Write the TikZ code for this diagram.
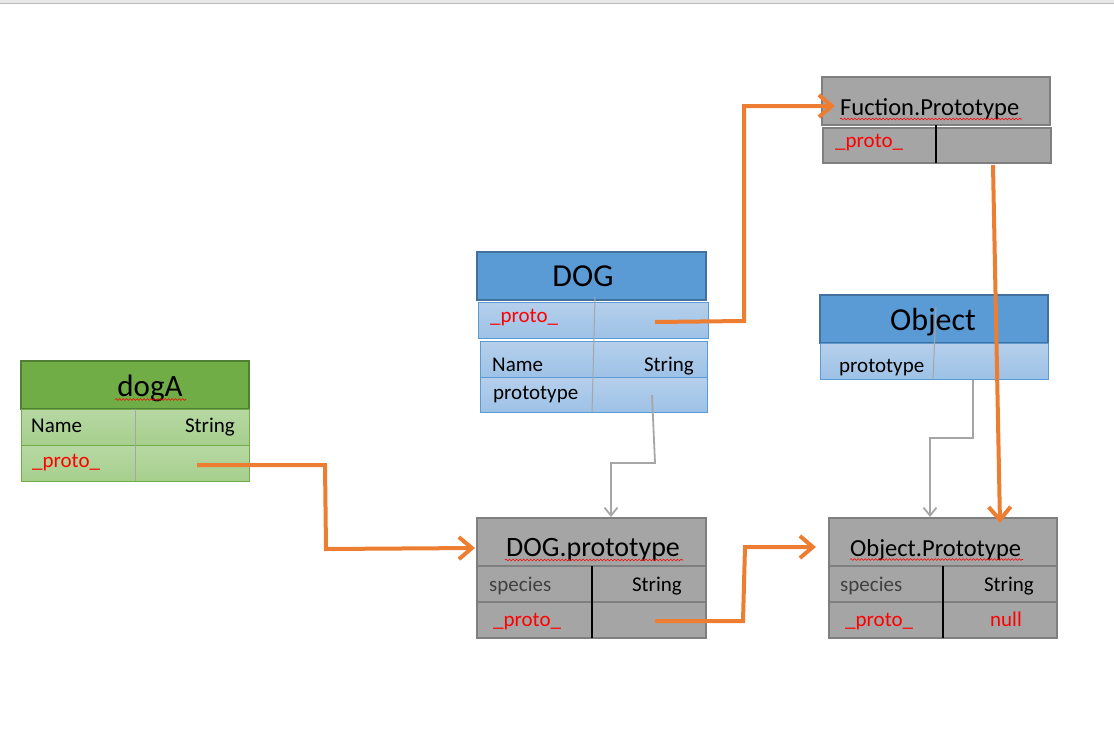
\documentclass[tikz,border=0pt]{standalone}
\usepackage{fontspec}
\setmainfont{Carlito}
\usetikzlibrary{arrows.meta,decorations.pathmorphing}
\definecolor{grnhead}{HTML}{70AD47}
\definecolor{grnedge}{HTML}{507E32}
\definecolor{grntop}{HTML}{B7D8A3}
\definecolor{grnbot}{HTML}{A6CF8D}
\definecolor{bluhead}{HTML}{5B9BD5}
\definecolor{bluedge}{HTML}{41719C}
\definecolor{blutop}{HTML}{B6CFEC}
\definecolor{blubot}{HTML}{9DC2E6}
\definecolor{gryfill}{HTML}{A5A5A5}
\definecolor{gryedge}{HTML}{7F7F7F}
\definecolor{conngray}{HTML}{A6A6A6}
\definecolor{orng}{HTML}{ED7D31}
\definecolor{txtred}{HTML}{FF0000}
\definecolor{txtdark}{HTML}{404040}
\newcommand\setfs[1]{\fontsize{#1}{#1}\selectfont}
\begin{document}
\begin{tikzpicture}[x=1pt,y=-1pt,
  cell/.style={inner sep=0pt, outer sep=0pt, anchor=north west},
  greenhead/.style={cell, fill=grnhead, draw=grnedge, line width=1.8pt},
  greenrow/.style={cell, top color=grntop, bottom color=grnbot, draw=grnhead, line width=1pt},
  bluehead/.style={cell, fill=bluhead, draw=bluedge, line width=1.8pt},
  bluerow/.style={cell, top color=blutop, bottom color=blubot, draw=bluhead, line width=1pt},
  grayhead/.style={cell, fill=gryfill, draw=gryedge, line width=1.8pt},
  grayrow/.style={cell, fill=gryfill, draw=gryedge, line width=1.8pt},
  lightdiv/.style={draw=conngray, line width=1pt},
  darkdiv/.style={draw=black, line width=1.6pt},
  title/.style={inner sep=0pt, anchor=base, text=black},
  lbl/.style={inner sep=0pt, anchor=base west, font=\setfs{21}, text=black},
  rlbl/.style={inner sep=0pt, anchor=base east, font=\setfs{21}, text=black},
  protolbl/.style={lbl, text=txtred},
  spec/.style={lbl, text=txtdark},
  orangearrow/.style={draw=orng, line width=4pt, -{Straight Barb[length=13pt,width=22pt]}},
  grayarrow/.style={draw=conngray, line width=1.8pt, -{Straight Barb[length=8pt,width=13pt]}},
  squig/.style={draw=red, line width=0.6pt, decorate, decoration={snake, amplitude=0.9pt, segment length=3.5pt}}
]
\useasboundingbox (0,0) rectangle (1114,729);
% top bar
\fill[gray!18] (0,0) rectangle (1114,3);
\draw[gray!55, line width=1.5pt] (0,3.5) -- (1114,3.5);

% ---------- dogA ----------
\node[greenhead, minimum width=228pt, minimum height=48pt] (dogAh) at (21,361) {};
\node[greenrow, minimum width=228pt, minimum height=36pt] (dogAr1) at (21,409) {};
\node[greenrow, minimum width=228pt, minimum height=36pt] (dogAr2) at (21,445) {};
\coordinate (dAd1) at (135,409);
\coordinate (dAd2) at (135,481);
\draw[lightdiv] (dAd1) -- (dAd2);
\node[title, font=\setfs{31}] (dogAt) at (150,396) {dogA};
\draw[squig] (115,399.5) -- (186,399.5);
\node[lbl] (dogAn) at (31,432) {Name};
\node[rlbl] (dogAs) at (235,432) {String};
\node[protolbl] (dogAp) at (32,467) {\_proto\_};

% ---------- DOG ----------
\node[bluehead, minimum width=229pt, minimum height=48pt] (dogh) at (477,252) {};
\node[bluerow, minimum width=230pt, minimum height=36pt] (dogr0) at (478,302) {};
\node[bluerow, minimum width=227pt, minimum height=36pt] (dogr1) at (480,341) {};
\node[bluerow, minimum width=227pt, minimum height=35pt] (dogr2) at (480,377) {};
\coordinate (dd1) at (595,297);
\coordinate (dd2) at (592,412);
\draw[lightdiv] (dd1) -- (dd2);
\node[title, font=\setfs{32}] (dogt) at (583,286) {DOG};
\node[protolbl] (dogp) at (490,322) {\_proto\_};
\node[lbl] (dogn) at (492,371) {Name};
\node[rlbl] (dogs) at (694,371) {String};
\node[lbl] (dogpt) at (493,399) {prototype};

% ---------- DOG.prototype ----------
\node[grayhead, minimum width=229pt, minimum height=48pt] (dph) at (477,518) {};
\node[grayrow, minimum width=229pt, minimum height=36pt] (dpr1) at (477,566) {};
\node[grayrow, minimum width=229pt, minimum height=36pt] (dpr2) at (477,602) {};
\coordinate (dpd1) at (592,566);
\coordinate (dpd2) at (592,638);
\draw[darkdiv] (dpd1) -- (dpd2);
\node[title, font=\setfs{28}] (dpt) at (593,556) {DOG.prototype};
\draw[squig] (505,560) -- (683,560);
\node[spec] (dps) at (489,591) {species};
\node[rlbl] (dpst) at (682,591) {String};
\node[protolbl] (dpp) at (493,626) {\_proto\_};

% ---------- Fuction.Prototype ----------
\node[grayhead, minimum width=228pt, minimum height=48pt] (fph) at (822,77) {};
\node[grayrow, minimum width=228pt, minimum height=35pt] (fpr) at (823,128) {};
\coordinate (fpd1) at (936,125);
\coordinate (fpd2) at (936,163);
\draw[darkdiv] (fpd1) -- (fpd2);
\node[title, anchor=base west, font=\setfs{24.5}] (fpt) at (840,115) {Fuction.Prototype};
\draw[squig] (840,119) -- (1022,119);
\node[protolbl] (fpp) at (835,147) {\_proto\_};

% ---------- Object ----------
\node[bluehead, minimum width=228pt, minimum height=48pt] (obh) at (820,295) {};
\node[bluerow, minimum width=228pt, minimum height=36pt] (obr) at (820,343) {};
\coordinate (obd1) at (936,307);
\coordinate (obd2) at (933,379);
\draw[lightdiv] (obd1) -- (obd2);
\node[title, font=\setfs{32}] (obt) at (933,330) {Object};
\node[lbl] (obpt) at (839,372) {prototype};

% ---------- Object.Prototype ----------
\node[grayhead, minimum width=228pt, minimum height=48pt] (oph) at (829,518) {};
\node[grayrow, minimum width=228pt, minimum height=36pt] (opr1) at (829,566) {};
\node[grayrow, minimum width=228pt, minimum height=36pt] (opr2) at (829,602) {};
\coordinate (opd1) at (943,566);
\coordinate (opd2) at (943,638);
\draw[darkdiv] (opd1) -- (opd2);
\node[title, anchor=base west, font=\setfs{24.5}] (opt) at (850,556) {Object.Prototype};
\draw[squig] (850,559.5) -- (1023,559.5);
\node[spec] (ops) at (840,591) {species};
\node[rlbl] (opst) at (1034,591) {String};
\node[protolbl] (opp) at (845,626) {\_proto\_};
\node[title, font=\setfs{21}, text=txtred] (opn) at (1006,626) {null};

% ---------- gray connectors ----------
\coordinate (g1s) at (652,395);
\coordinate (g1e) at (611,517);
\draw[grayarrow] (g1s) -- (655,463) -- (611,463) -- (g1e);
\coordinate (g2s) at (973,380);
\coordinate (g2e) at (930,517);
\draw[grayarrow] (g2s) -- (973,438) -- (930,438) -- (g2e);

% ---------- orange connectors ----------
\coordinate (o1s) at (197,465);
\coordinate (o1e) at (475,548);
\draw[orangearrow] (o1s) -- (325,465) -- (326,549) -- (o1e);
\coordinate (o2s) at (655,322);
\coordinate (o2e) at (835,106);
\draw[orangearrow] (o2s) -- (744,321) -- (744,106) -- (o2e);
\coordinate (o3s) at (655,621);
\coordinate (o3e) at (816,547);
\draw[orangearrow] (o3s) -- (743,621) -- (745,547) -- (o3e);
\coordinate (o4s) at (993,165);
\coordinate (o4e) at (1000,523);
\draw[orangearrow] (o4s) -- (o4e);
\end{tikzpicture}
\end{document}
